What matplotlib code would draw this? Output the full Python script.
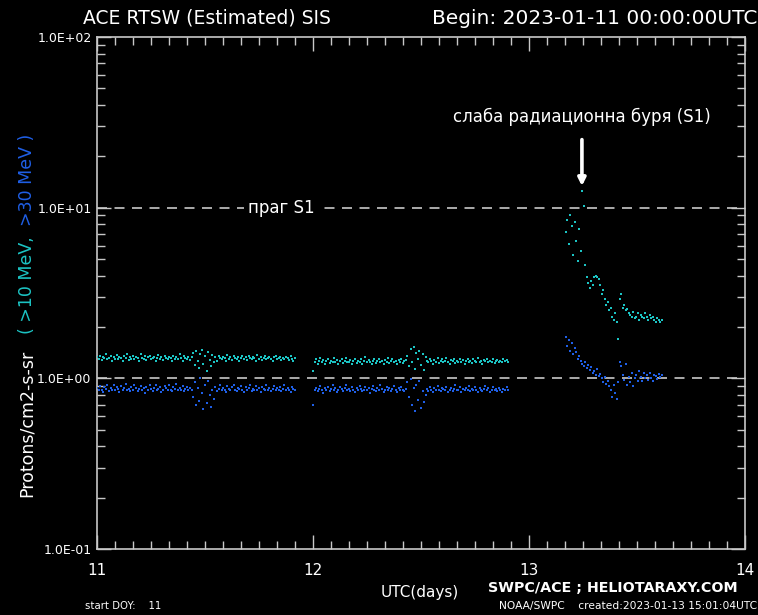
import numpy as np
import matplotlib
matplotlib.use("Agg")
import matplotlib.pyplot as plt
from matplotlib.ticker import FixedLocator, LogLocator, MultipleLocator, NullFormatter

# ================= data =================
STEP = 1.0 / 144  # 10 min cadence, in days

# segment 1: 11.00 -> 11.92
SEG1_START = 11.0
p10_seg1 = [
    1.33, 1.30, 1.36, 1.28, 1.34, 1.31, 1.38, 1.29, 1.32, 1.35, 1.27, 1.33,
    1.30, 1.37, 1.29, 1.34, 1.31, 1.26, 1.35, 1.32, 1.39, 1.28, 1.33, 1.30,
    1.36, 1.29, 1.34, 1.31, 1.27, 1.38, 1.32, 1.30, 1.35, 1.28, 1.33, 1.36,
    1.29, 1.31, 1.34, 1.27, 1.32, 1.37, 1.30, 1.33, 1.28, 1.35, 1.31, 1.29,
    1.34, 1.32, 1.26, 1.36, 1.30, 1.33, 1.29, 1.38, 1.31, 1.27, 1.35, 1.32,
    1.30, 1.34, 1.28, 1.33,
    1.40, 1.20, 1.44, 1.26, 1.15, 1.39, 1.46, 1.22, 1.35, 1.11, 1.43, 1.28,
    1.18, 1.37, 1.24,
    1.33, 1.27, 1.36, 1.31, 1.29, 1.34, 1.32, 1.26, 1.37, 1.30, 1.33, 1.28,
    1.35, 1.31, 1.29, 1.34, 1.27, 1.32, 1.36, 1.30, 1.33, 1.28, 1.35, 1.31,
    1.29, 1.34, 1.32, 1.26, 1.37, 1.30, 1.33, 1.28, 1.31, 1.35, 1.29, 1.32,
    1.34, 1.30, 1.27, 1.33, 1.36, 1.29, 1.31, 1.34, 1.28, 1.32, 1.30, 1.33,
    1.31, 1.28, 1.35, 1.30, 1.27, 1.32,
]
p30_seg1 = [
    0.88, 0.85, 0.90, 0.86, 0.83, 0.89, 0.87, 0.92, 0.84, 0.88, 0.86, 0.91,
    0.85, 0.89, 0.87, 0.83, 0.90, 0.86, 0.88, 0.93, 0.85, 0.87, 0.84, 0.89,
    0.86, 0.91, 0.88, 0.84, 0.87, 0.90, 0.85, 0.88, 0.82, 0.89, 0.86, 0.92,
    0.87, 0.84, 0.88, 0.91, 0.85, 0.87, 0.89, 0.83, 0.86, 0.90, 0.88, 0.85,
    0.91, 0.86, 0.84, 0.89, 0.87, 0.93, 0.85, 0.88, 0.86, 0.90, 0.84, 0.87,
    0.89, 0.85, 0.88, 0.86,
    0.78, 0.95, 0.70, 0.88, 0.74, 1.00, 0.82, 0.66, 0.91, 0.72, 0.97, 0.80,
    0.68, 0.86, 0.76,
    0.89, 0.84, 0.87, 0.91, 0.85, 0.88, 0.86, 0.83, 0.90, 0.87, 0.85, 0.89,
    0.92, 0.86, 0.84, 0.88, 0.87, 0.90, 0.85, 0.83, 0.89, 0.86, 0.88, 0.91,
    0.84, 0.87, 0.85, 0.90, 0.86, 0.88, 0.83, 0.89, 0.87, 0.85, 0.92, 0.86,
    0.88, 0.84, 0.87, 0.90, 0.85, 0.88, 0.86, 0.89, 0.84, 0.87, 0.91, 0.85,
    0.88, 0.86, 0.83, 0.89, 0.87, 0.86,
]

# segment 2: 12.00 -> 12.91
SEG2_START = 12.0
p10_seg2 = [
    1.10, 1.24, 1.29, 1.22, 1.27, 1.31, 1.25, 1.28, 1.21, 1.26, 1.30, 1.23,
    1.27, 1.25, 1.32, 1.24, 1.28, 1.22, 1.26, 1.29, 1.23, 1.27, 1.31, 1.25,
    1.24, 1.28, 1.21, 1.26, 1.30, 1.23, 1.27, 1.25, 1.29, 1.22, 1.26, 1.33,
    1.24, 1.28, 1.25, 1.21, 1.27, 1.30, 1.23, 1.26, 1.29, 1.24, 1.27, 1.22,
    1.28, 1.25, 1.31, 1.23, 1.26, 1.29, 1.24, 1.27, 1.21, 1.28, 1.25, 1.30,
    1.23, 1.26, 1.28,
    1.36, 1.18, 1.48, 1.25, 1.52, 1.14, 1.40, 1.29, 1.45, 1.20, 1.38, 1.12,
    1.33,
    1.27, 1.24, 1.30, 1.26, 1.22, 1.28, 1.25, 1.31, 1.23, 1.27, 1.29, 1.24,
    1.26, 1.32, 1.25, 1.22, 1.28, 1.26, 1.30, 1.23, 1.27, 1.25, 1.29, 1.24,
    1.28, 1.21, 1.26, 1.30, 1.25, 1.27, 1.23, 1.29, 1.26, 1.24, 1.31, 1.25,
    1.27, 1.22, 1.28, 1.26, 1.30, 1.24, 1.27, 1.25, 1.29, 1.23, 1.26, 1.28,
    1.24, 1.27, 1.25, 1.30, 1.26, 1.28, 1.25,
]
p30_seg2 = [
    0.70, 0.85, 0.88, 0.84, 0.87, 0.90, 0.85, 0.82, 0.88, 0.86, 0.89, 0.84,
    0.87, 0.91, 0.85, 0.88, 0.83, 0.86, 0.89, 0.87, 0.84, 0.88, 0.92, 0.85,
    0.87, 0.84, 0.89, 0.86, 0.83, 0.88, 0.85, 0.90, 0.87, 0.84, 0.86, 0.89,
    0.85, 0.88, 0.82, 0.87, 0.90, 0.86, 0.84, 0.88, 0.85, 0.91, 0.87, 0.83,
    0.86, 0.89, 0.85, 0.88, 0.84, 0.87, 0.90, 0.86, 0.83, 0.88, 0.85, 0.89,
    0.86, 0.84, 0.87,
    0.95, 0.78, 0.99, 0.70, 0.88, 0.64, 0.92, 0.75, 0.97, 0.67, 0.84, 0.73,
    0.80,
    0.87, 0.84, 0.89, 0.86, 0.83, 0.88, 0.85, 0.90, 0.86, 0.84, 0.88, 0.87,
    0.85, 0.89, 0.83, 0.86, 0.88, 0.84, 0.87, 0.91, 0.85, 0.86, 0.89, 0.83,
    0.87, 0.85, 0.88, 0.86, 0.90, 0.84, 0.87, 0.85, 0.89, 0.86, 0.83, 0.88,
    0.86, 0.84, 0.87, 0.90, 0.85, 0.88, 0.83, 0.86, 0.89, 0.85, 0.87, 0.84,
    0.88, 0.86, 0.83, 0.87, 0.85, 0.89, 0.86,
]

# segment 3 (radiation storm): 13.17 -> 13.62
SEG3_START = 13.17
p10_seg3 = [
    7.2, 8.5, 6.1, 9.0, 7.8, 5.3, 8.2,
    6.4, 4.9, 7.5, 5.6,
    12.6,
    10.2, 4.6, 3.9,
    3.6, 3.4, 3.7, 3.5,
    3.9, 4.0, 3.95, 3.8,
    3.5, 3.1, 3.3, 2.9,
    2.7, 2.8, 2.5, 2.6, 2.3,
    2.2, 2.4, 2.15, 1.7,
    2.9, 3.1, 2.6, 2.7, 2.5, 2.55,
    2.4, 2.35, 2.3, 2.45, 2.25,
    2.3, 2.4, 2.2, 2.35, 2.3, 2.25, 2.4, 2.3, 2.2, 2.35, 2.25, 2.3,
    2.2, 2.15, 2.25, 2.2, 2.15, 2.2,
]
p30_seg3 = [
    1.75, 1.55, 1.68, 1.45, 1.60, 1.38, 1.50,
    1.42, 1.30, 1.35, 1.27,
    1.22, 1.18, 1.25, 1.15,
    1.20, 1.12, 1.16, 1.08,
    1.10, 1.05, 1.13, 1.03,
    1.06, 1.00, 0.95, 1.02,
    0.93, 0.97, 0.90, 0.85, 0.78,
    0.92, 0.82, 0.76, 0.95,
    1.25, 1.18, 1.05, 0.98, 1.22, 0.92,
    1.02, 0.95, 1.08, 0.90, 1.00,
    1.05, 0.97, 1.10, 1.02, 0.96, 1.07, 1.00, 1.04, 0.98, 1.08, 1.01, 0.97,
    1.05, 1.03, 0.99, 1.06, 1.02, 1.04,
]

S1_LEVEL = 10.0
REF_LEVEL = 1.0
Y_TICKS = [0.1, 1.0, 10.0, 100.0]
Y_LABELS = ["1.0E-01", "1.0E+00", "1.0E+01", "1.0E+02"]
X_TICKS = [11, 12, 13, 14]

CYAN = "#1cc4c4"
BLUE = "#1f5fe6"
GREY = "#c8c8c8"
# ========================================

W, H = 758, 615
fig = plt.figure(figsize=(W / 100, H / 100), dpi=100, facecolor="black")
ax = fig.add_axes([97 / W, 1 - 549 / H, (745 - 97) / W, (549 - 37) / H])
ax.set_facecolor("black")


def fxy(x, y):
    # figure pixel -> figure fraction
    return x / W, 1 - y / H


segments = [
    (SEG1_START, p10_seg1, p30_seg1),
    (SEG2_START, p10_seg2, p30_seg2),
    (SEG3_START, p10_seg3, p30_seg3),
]
for start, p10, p30 in segments:
    t10 = start + np.arange(len(p10)) * STEP
    t30 = start + np.arange(len(p30)) * STEP
    ax.plot(t10, p10, "s", ms=2.0, mew=0, color=CYAN, zorder=3)
    ax.plot(t30, p30, "s", ms=2.0, mew=0, color=BLUE, zorder=3)

dash = (0, (6, 4.5))
ax.axhline(S1_LEVEL, color=GREY, lw=1.2, ls=dash, zorder=2)
ax.axhline(REF_LEVEL, color=GREY, lw=1.2, ls=dash, zorder=2)

ax.set_yscale("log")
ax.set_xlim(11, 14)
ax.set_ylim(0.1, 100)

ax.yaxis.set_major_locator(FixedLocator(Y_TICKS))
ax.set_yticklabels(Y_LABELS)
ax.yaxis.set_minor_locator(LogLocator(base=10, subs=np.arange(2, 10)))
ax.yaxis.set_minor_formatter(NullFormatter())
ax.xaxis.set_major_locator(FixedLocator(X_TICKS))
ax.xaxis.set_minor_locator(MultipleLocator(1 / 12))

for sp in ax.spines.values():
    sp.set_color(GREY)
    sp.set_linewidth(1.2)

ax.tick_params(which="both", direction="in", colors=GREY, top=True, right=True, width=1.0)
ax.tick_params(which="major", length=10)
ax.tick_params(which="minor", length=6)
ax.tick_params(axis="y", which="major", labelsize=9, labelcolor="white", pad=4)
ax.tick_params(axis="x", which="major", labelsize=11, labelcolor="white", pad=10)

# annotations inside the plot
ax.text(11.855, S1_LEVEL, "праг S1", color="white", fontsize=12, ha="center", va="center",
        bbox=dict(facecolor="black", edgecolor="none", pad=3), zorder=4)
ax.text(13.245, 34, "слаба радиационна буря (S1)", color="white", fontsize=12,
        ha="center", va="center", zorder=4)
ax.annotate("", xy=(13.245, 12.9), xytext=(13.245, 26),
            arrowprops=dict(arrowstyle="-|>", color="white", lw=2.6, mutation_scale=11), zorder=4)

# header
fig.text(*fxy(83, 18), "ACE RTSW (Estimated) SIS", color="white", fontsize=13.5, ha="left", va="center")
fig.text(*fxy(757, 18), "Begin: 2023-01-11 00:00:00UTC", color="white", fontsize=14.5,
         ha="right", va="center")

# y axis label, three coloured pieces
fig.text(*fxy(27, 497), "Protons/cm2-s-sr", color="white", fontsize=12.5, rotation=90,
         ha="center", va="bottom")
fig.text(*fxy(27, 334), "( >10 MeV,", color=CYAN, fontsize=12.5, rotation=90,
         ha="center", va="bottom")
fig.text(*fxy(27, 226), ">30 MeV )", color=BLUE, fontsize=12.5, rotation=90,
         ha="center", va="bottom")

# footer
fig.text(*fxy(420, 592), "UTC(days)", color="white", fontsize=11, ha="center", va="center")
fig.text(*fxy(613, 588), "SWPC/ACE ; HELIOTARAXY.COM", color="white", fontsize=10.3,
         fontweight="bold", ha="center", va="center")
fig.text(*fxy(85, 606), "start DOY:    11", color="white", fontsize=7.3, ha="left", va="center")
fig.text(*fxy(757, 606), "NOAA/SWPC    created:2023-01-13 15:01:04UTC", color="white",
         fontsize=7.7, ha="right", va="center")

fig.savefig("out.png", dpi=100, facecolor="black")
